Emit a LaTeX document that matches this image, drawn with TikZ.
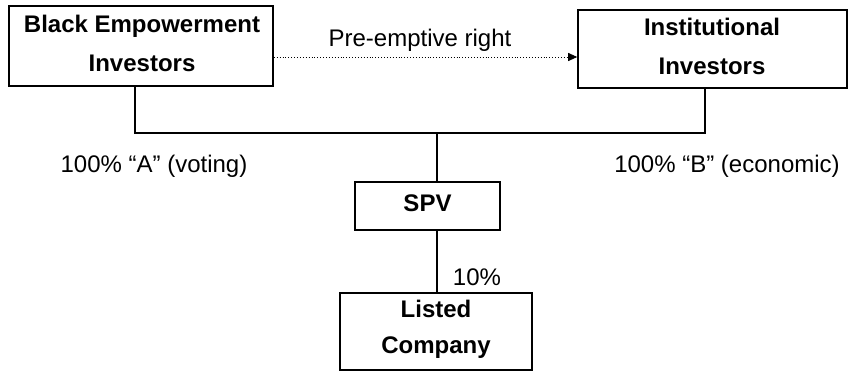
\documentclass[tikz,border=0pt]{standalone}
\usepackage{fontspec}
\setmainfont{Liberation Sans}
\usetikzlibrary{arrows.meta}
\begin{document}
\begin{tikzpicture}[x=1pt,y=-1pt,
  box/.style={draw, line width=1.6pt, inner sep=0pt},
  btxt/.style={inner sep=0pt, align=center, font=\fontsize{24}{39}\selectfont\bfseries},
  lbl/.style={font=\fontsize{24}{28}\selectfont, inner sep=0pt},
  conn/.style={line width=1.3pt},
  pre/.style={line width=0.9pt, dotted, -{Triangle[length=9pt,width=8pt]}}]
\useasboundingbox (0,0) rectangle (853,372);
\node[box, minimum width=264pt, minimum height=80pt] (bei) at (141,46) {};
\node[btxt] (beit) at (142,43) {Black Empowerment\\Investors};
\node[box, minimum width=269pt, minimum height=78pt] (inst) at (712.5,49) {};
\node[btxt] (instt) at (712,46) {Institutional\\Investors};
\node[box, minimum width=145pt, minimum height=48pt] (spv) at (427.5,206) {};
\node[btxt] (spvt) at (427.5,203) {SPV};
\node[box, minimum width=192pt, minimum height=77pt] (listed) at (436,331.5) {};
\node[btxt, font=\fontsize{24}{36}\selectfont\bfseries] (listedt) at (436,329) {Listed\\Company};
\coordinate (jl) at (135,133);
\coordinate (jr) at (705,133);
\coordinate (jm) at (437,133);
\draw[conn] (bei.south -| jl) -- (jl) -- (jr) -- (inst.south -| jr);
\draw[conn] (jm) -- (spv.north -| jm);
\draw[conn] (spv.south -| jm) -- (listed.north -| jm);
\coordinate (ps) at (bei.east |- 0,57);
\coordinate (pe) at (inst.west |- 0,57);
\draw[pre] (ps) -- (pe);
\node[lbl] (prel) at (420,40) {Pre-emptive right};
\node[lbl] (la) at (154,166) {100\% “A” (voting)};
\node[lbl] (lb) at (727,166) {100\% “B” (economic)};
\node[lbl] (l10) at (477,277) {10\%};
\end{tikzpicture}
\end{document}
